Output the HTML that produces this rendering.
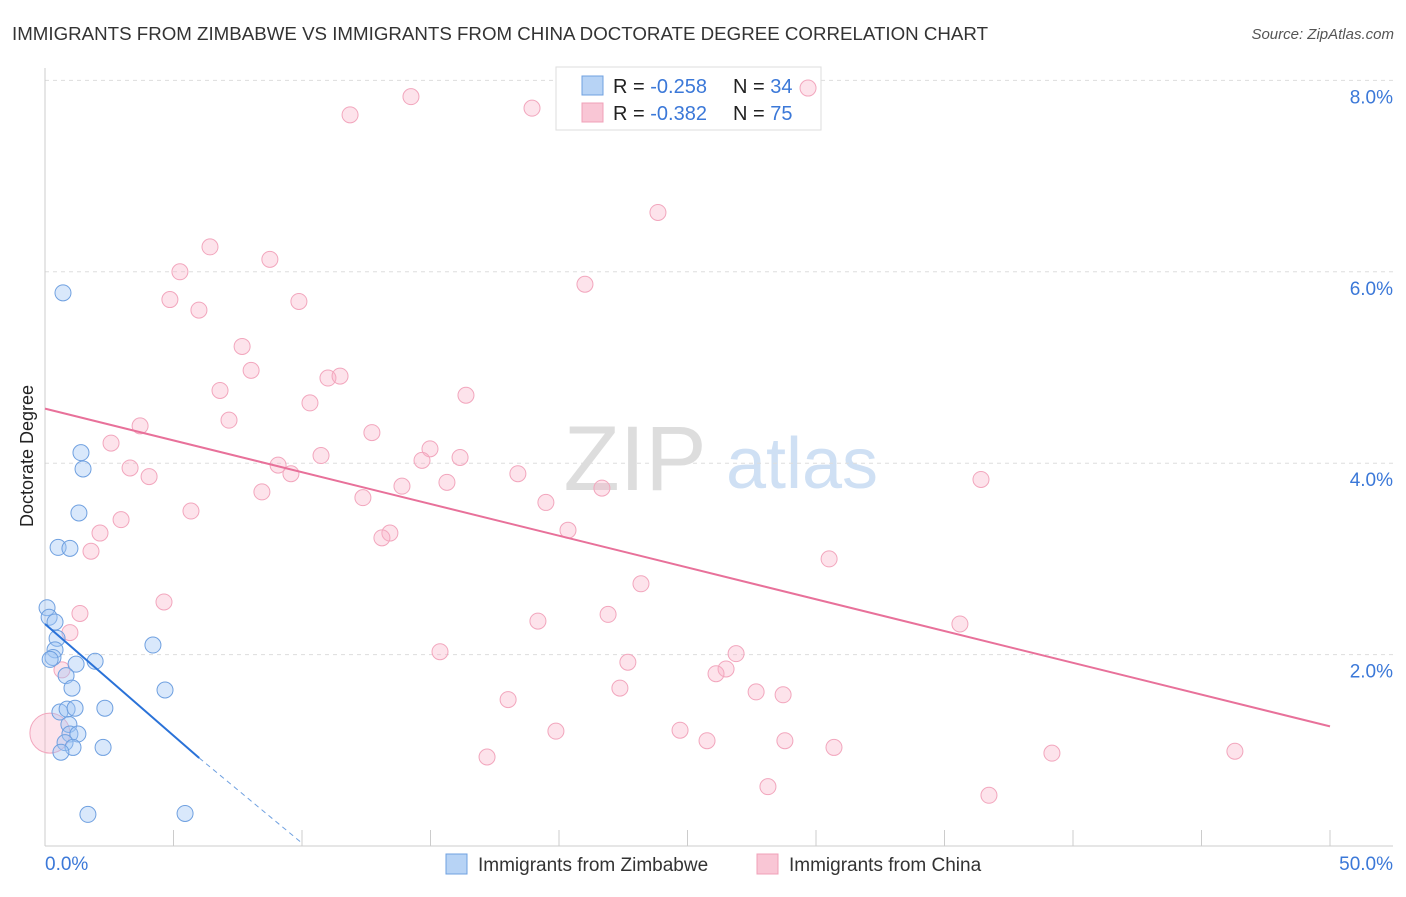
<!DOCTYPE html>
<html><head><meta charset="utf-8"><style>
body{margin:0;background:#fff;font-family:"Liberation Sans",sans-serif;}
svg text{font-family:"Liberation Sans",sans-serif;}
</style></head><body>
<svg id="c" width="1406" height="892">
<text x="12" y="40" font-size="18" fill="#333" textLength="976" lengthAdjust="spacingAndGlyphs">IMMIGRANTS FROM ZIMBABWE VS IMMIGRANTS FROM CHINA DOCTORATE DEGREE CORRELATION CHART</text>
<text x="1394" y="39" font-size="15" fill="#555" font-style="italic" text-anchor="end">Source: ZipAtlas.com</text>
<text x="0" y="0" font-size="18" fill="#222" transform="translate(33,456) rotate(-90)" text-anchor="middle">Doctorate Degree</text>
<g><text x="635" y="490" font-size="92" font-family="Liberation Serif" fill="#ddd" text-anchor="middle">ZIP</text><text x="802" y="488" font-size="72" fill="#cfe0f4" text-anchor="middle">atlas</text></g>
<g id="grid"></g>
<g>
<rect x="556" y="67" width="265" height="63" fill="#fff" stroke="#ddd"/>
<rect x="582" y="76" width="21" height="19" fill="#b7d3f5" stroke="#6fa0e0"/>
<rect x="582" y="103" width="21" height="19" fill="#f9c6d5" stroke="#f0a0b8"/>
<text x="613" y="93" font-size="20" fill="#222">R = <tspan fill="#3b78d8">-0.258</tspan><tspan x="733">N = </tspan><tspan fill="#3b78d8">34</tspan></text>
<text x="613" y="120" font-size="20" fill="#222">R = <tspan fill="#3b78d8">-0.382</tspan><tspan x="733">N = </tspan><tspan fill="#3b78d8">75</tspan></text>
</g>
<g id="pts"></g><g id="lines"></g>
<g>
<rect x="446" y="854" width="21" height="20" fill="#b7d3f5" stroke="#6fa0e0"/>
<text x="478" y="871" font-size="19" fill="#333">Immigrants from Zimbabwe</text>
<rect x="757" y="854" width="21" height="20" fill="#f9c6d5" stroke="#f0a0b8"/>
<text x="789" y="871" font-size="19" fill="#333">Immigrants from China</text>
</g>
</svg>
<script>
const xTicks=[0,5,10,15,20,25,30,35,40,45,50];
const yTicks=[2,4,6,8];
const pinkX=[11.87,14.24,18.95,29.69,23.85,6.42,5.25,8.75,4.86,5.99,9.88,21.01,7.67,8.02,11.01,11.48,6.81,16.38,10.31,7.16,3.70,12.72,2.57,14.98,10.74,16.15,14.67,9.07,3.31,9.57,4.05,18.40,13.89,15.64,21.67,8.44,12.37,19.49,36.42,5.68,2.96,2.14,13.42,13.11,20.35,1.79,30.51,23.19,4.63,1.36,21.91,19.18,35.60,0.97,15.37,26.89,22.68,26.50,26.11,0.66,22.37,27.67,28.72,18.02,24.71,19.88,25.76,28.79,30.70,39.18,46.30,17.20,28.13,36.73,0.19];
const pinkY=[7.64,7.83,7.71,7.92,6.62,6.26,6.00,6.13,5.71,5.60,5.69,5.87,5.22,4.97,4.89,4.91,4.76,4.71,4.63,4.45,4.39,4.32,4.21,4.15,4.08,4.06,4.03,3.98,3.95,3.89,3.86,3.89,3.76,3.80,3.74,3.70,3.64,3.59,3.83,3.50,3.41,3.27,3.27,3.22,3.30,3.08,3.00,2.74,2.55,2.43,2.42,2.35,2.32,2.23,2.03,2.01,1.92,1.85,1.80,1.84,1.65,1.61,1.58,1.53,1.21,1.20,1.10,1.10,1.03,0.97,0.99,0.93,0.62,0.53,1.18];
const blueX=[0.70,1.40,1.48,1.32,0.51,0.97,0.08,0.16,0.39,0.47,4.20,0.39,0.31,1.95,1.21,0.82,1.05,4.67,0.58,0.86,1.17,2.33,0.93,0.97,1.28,0.78,1.09,2.26,0.62,1.67,5.45,0.2];
const blueY=[5.78,4.11,3.94,3.48,3.12,3.11,2.49,2.39,2.34,2.17,2.10,2.05,1.97,1.93,1.90,1.78,1.65,1.63,1.40,1.43,1.44,1.44,1.27,1.17,1.17,1.08,1.03,1.03,0.98,0.33,0.34,1.95];
const pinkTrend=[[0,4.57],[50,1.25]];
const blueTrend=[[0,2.32],[6,0.92]];
const blueDash=[[6,0.92],[10,0.03]];
const X=v=>45+v*25.7, Y=v=>846-v*95.7;
const NS='http://www.w3.org/2000/svg';
function mk(p,t,a){const e=document.createElementNS(NS,t);for(const k in a)e.setAttribute(k,a[k]);p.appendChild(e);return e;}
const g=document.getElementById('grid');
yTicks.forEach(t=>{
 const l=mk(g,'line',{x1:45,x2:1393,y1:Y(t),y2:Y(t),stroke:'#ddd','stroke-dasharray':'4,4'});
 
 
 const tx=mk(g,'text',{x:1393,y:Y(t)+23,'font-size':19,fill:'#3b78d8','text-anchor':'end'});tx.textContent=t.toFixed(1)+'%';
 
 
});
const ax=mk(g,'line',{x1:45,x2:1393,y1:846,y2:846,stroke:'#ccc'});


const ay=mk(g,'line',{x1:45,x2:45,y1:68,y2:846,stroke:'#ccc'});


xTicks.forEach(t=>{const l=mk(g,'line',{x1:X(t),x2:X(t),y1:830,y2:846,stroke:'#ccc'});
 
 });
[[0,'0.0%','start',45],[50,'50.0%','end',1393]].forEach(a=>{const tx=mk(g,'text',{x:a[3],y:870,'font-size':19,fill:'#3b78d8','text-anchor':a[2]});tx.textContent=a[1];
 
 });
const P=document.getElementById('pts');
pinkX.forEach((v,i)=>{const c=mk(P,'circle',{cx:X(v),cy:Y(pinkY[i]),r:i==pinkX.length-1?20:8,fill:'rgba(248,175,198,0.35)',stroke:'#f2a6bd','stroke-width':1});
 
 });
blueX.forEach((v,i)=>{const c=mk(P,'circle',{cx:X(v),cy:Y(blueY[i]),r:8,fill:'rgba(160,198,245,0.4)',stroke:'#6fa0e0','stroke-width':1});
 
 });
const L=document.getElementById('lines');
const pl=mk(L,'line',{x1:X(pinkTrend[0][0]),y1:Y(pinkTrend[0][1]),x2:X(pinkTrend[1][0]),y2:Y(pinkTrend[1][1]),stroke:'#e8719a','stroke-width':2});


const bl=mk(L,'line',{x1:X(blueTrend[0][0]),y1:Y(blueTrend[0][1]),x2:X(blueTrend[1][0]),y2:Y(blueTrend[1][1]),stroke:'#2a72d8','stroke-width':2});


const bd=mk(L,'line',{x1:X(blueDash[0][0]),y1:Y(blueDash[0][1]),x2:X(blueDash[1][0]),y2:Y(blueDash[1][1]),stroke:'#6fa0e0','stroke-width':1,'stroke-dasharray':'5,4'});


</script>
</body></html>
